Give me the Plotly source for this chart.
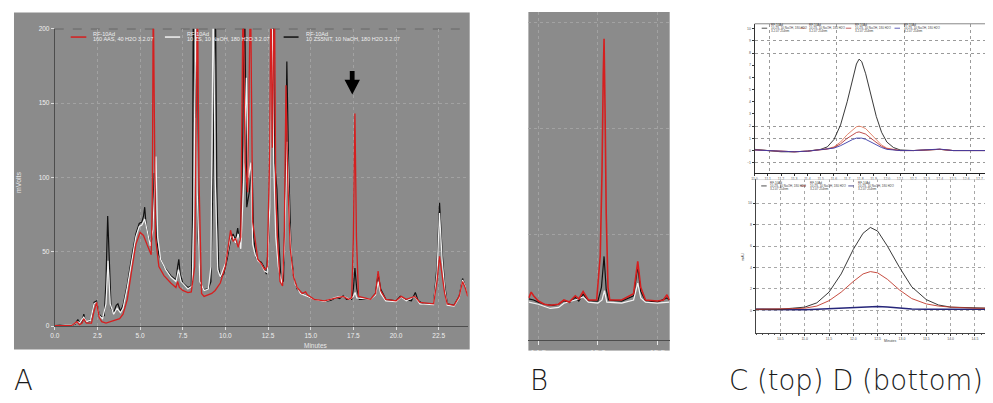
import plotly.graph_objects as go

W, H = 993, 403
OFF = 8  # page body margin offset compensation
def fx(x): return (x - OFF) / W
def fy(y): return 1 - (y - OFF) / H

# ---------------- Panel A data (minutes, mVolts) ----------------
a_ticks = [0.0, 2.5, 5.0, 7.5, 10.0, 12.5, 15.0, 17.5, 20.0, 22.5]
a_ticktext = ["0.0", "2.5", "5.0", "7.5", "10.0", "12.5", "15.0", "17.5", "20.0", "22.5"]
a_yticks = [0, 50, 100, 150, 200]

black_t = [0.0, 0.3, 0.6, 1.0, 1.2, 1.35, 1.45, 1.6, 1.7, 1.8, 2.0, 2.15, 2.3, 2.45, 2.6, 2.75, 2.9, 3.0, 3.1, 3.2,
           3.3, 3.45, 3.6, 3.7, 3.85, 4.0, 4.25, 4.5, 4.75, 4.95, 5.1, 5.2, 5.27, 5.35, 5.5, 5.65, 5.75, 5.83, 5.95,
           6.1, 6.4, 6.8, 7.1, 7.2, 7.27, 7.35, 7.5, 7.8, 8.0, 8.07, 8.12, 8.2, 8.3, 8.4, 8.55, 8.75, 9.0, 9.15, 9.3,
           9.41, 9.5, 9.6, 9.7, 9.9, 10.1, 10.3, 10.45, 10.6, 10.72, 10.85, 10.98, 11.12, 11.25, 11.4, 11.56, 11.65,
           11.8, 11.95, 12.1, 12.25, 12.4, 12.55, 12.7, 12.79, 12.88, 13.02, 13.12, 13.25, 13.4, 13.5, 13.6, 13.7,
           13.85, 14.0, 14.2, 14.5, 14.8, 15.2, 15.8, 16.2, 16.5, 16.7, 16.9, 17.1, 17.4, 17.5, 17.59, 17.7, 17.85,
           18.5, 18.8, 18.95, 19.1, 19.4, 20.0, 20.25, 20.5, 20.9, 21.13, 21.3, 21.6, 22.2, 22.4, 22.55, 22.7, 22.85,
           23.0, 23.4, 23.7, 23.9, 24.05, 24.2]
black_v = [0.5, 0.8, 0.3, 0.5, 1.5, 4.5, 2.5, 3.0, 8.0, 3.0, 3.0, 5.0, 16.0, 17.0, 8.0, 6.0, 7.0, 30.0, 74.0, 40.0,
           12.0, 9.0, 14.0, 15.0, 10.0, 14.0, 28.0, 46.0, 62.0, 69.0, 70.0, 74.0, 80.0, 68.0, 60.0, 55.0, 70.0, 103.0, 60.0,
           48.0, 40.0, 34.0, 31.0, 40.0, 45.0, 35.0, 29.0, 26.0, 27.0, 70.0, 230.0, 140.0, 230.0, 60.0, 28.0, 24.5, 25.0, 30.0, 120.0,
           230.0, 90.0, 40.0, 33.0, 35.0, 45.0, 58.0, 62.0, 58.0, 66.0, 55.0, 100.0, 230.0, 80.0, 90.0, 110.0, 60.0,
           46.0, 44.0, 43.0, 40.0, 35.0, 60.0, 150.0, 230.0, 110.0, 92.0, 60.0, 32.0, 30.0, 80.0, 178.0, 110.0,
           50.0, 33.0, 25.0, 22.0, 20.0, 18.0, 16.5, 17.5, 19.5, 18.5, 20.5, 18.0, 18.0, 25.0, 39.0, 25.0, 18.0,
           18.0, 22.0, 35.0, 25.0, 18.0, 17.0, 20.0, 18.0, 17.0, 22.7, 17.0, 15.0, 15.0, 40.0, 83.0, 50.0, 28.0,
           15.0, 14.0, 20.0, 32.0, 27.0, 20.0]

white_t = [0.0, 0.6, 1.0, 1.35, 1.45, 1.7, 1.85, 2.1, 2.3, 2.45, 2.6, 2.8, 3.0, 3.12, 3.25, 3.45, 3.65, 3.85, 4.0,
           4.25, 4.5, 4.75, 4.95, 5.1, 5.27, 5.4, 5.6, 5.75, 5.93, 6.03, 6.2, 6.5, 6.8, 7.1, 7.25, 7.4, 7.8, 8.05,
           8.15, 8.26, 8.35, 8.5, 8.75, 9.0, 9.15, 9.29, 9.4, 9.55, 9.7, 10.0, 10.3, 10.45, 10.6, 10.75, 10.9, 11.05,
           11.23, 11.35, 11.5, 11.6, 11.75, 11.9, 12.1, 12.3, 12.45, 12.6, 12.73, 12.83, 12.95, 13.1, 13.3, 13.45,
           13.62, 13.75, 13.9, 14.1, 14.4, 14.8, 15.2, 15.8, 16.5, 16.9, 17.3, 17.5, 17.6, 17.7, 18.5, 18.8, 18.95,
           19.1, 19.4, 20.0, 20.3, 20.6, 21.1, 21.4, 22.2, 22.4, 22.55, 22.7, 22.85, 23.0, 23.4, 23.7, 23.9, 24.05, 24.2]
white_v = [0.5, 0.3, 0.5, 3.0, 2.0, 6.0, 3.0, 4.0, 15.0, 16.0, 7.0, 5.0, 15.0, 44.0, 15.0, 8.0, 12.0, 9.0, 12.0,
           26.0, 44.0, 60.0, 67.0, 68.0, 72.0, 64.0, 54.0, 65.0, 114.0, 60.0, 45.0, 38.0, 33.0, 30.0, 38.0, 30.0, 25.0, 27.0,
           80.0, 230.0, 90.0, 30.0, 24.0, 25.0, 40.0, 230.0, 100.0, 38.0, 33.0, 42.0, 60.0, 60.0, 56.0, 62.0, 52.0, 90.0,
           167.0, 100.0, 110.0, 55.0, 48.0, 44.0, 42.0, 37.0, 36.0, 80.0, 230.0, 110.0, 60.0, 40.0, 28.0, 50.0,
           124.0, 70.0, 40.0, 28.0, 22.0, 20.0, 18.0, 16.5, 19.5, 20.0, 18.0, 20.0, 22.7, 19.0, 18.0, 21.0, 30.0,
           22.0, 17.0, 16.5, 19.5, 17.0, 20.0, 15.0, 14.5, 35.0, 76.0, 45.0, 25.0, 14.0, 13.5, 19.0, 31.0, 27.0, 20.0]

red_t = [0.0, 0.6, 1.0, 1.3, 1.45, 1.6, 1.7, 1.85, 2.0, 2.15, 2.3, 2.45, 2.6, 2.75, 3.0, 3.3, 3.6, 3.8, 4.0, 4.25,
         4.5, 4.75, 5.0, 5.2, 5.4, 5.55, 5.65, 5.72, 5.77, 5.83, 5.9, 6.1, 6.4, 6.8, 7.1, 7.2, 7.3, 7.5, 7.8, 8.0,
         8.2, 8.3, 8.36, 8.45, 8.6, 8.75, 9.0, 9.2, 9.4, 9.7, 10.0, 10.2, 10.3, 10.45, 10.6, 10.75, 10.9, 11.04,
         11.15, 11.3, 11.47, 11.6, 11.75, 11.9, 12.1, 12.3, 12.45, 12.6, 12.67, 12.75, 12.87, 12.95, 13.05, 13.2,
         13.35, 13.45, 13.55, 13.65, 13.8, 14.0, 14.2, 14.5, 14.7, 14.8, 15.2, 15.8, 16.5, 16.9, 17.2, 17.4, 17.5,
         17.59, 17.68, 17.8, 18.5, 18.8, 18.95, 19.1, 19.4, 20.0, 20.3, 20.6, 21.1, 21.4, 22.2, 22.4, 22.55, 22.7,
         22.85, 23.0, 23.4, 23.7, 23.9, 24.05, 24.2]
red_v = [0.3, 0.2, 0.5, 3.0, 1.0, 2.0, 5.0, 2.0, 2.0, 2.0, 10.0, 16.0, 6.0, 3.0, 2.0, 3.0, 4.0, 5.0, 8.0, 18.0,
         37.0, 55.0, 63.0, 61.0, 55.0, 50.0, 48.0, 90.0, 230.0, 150.0, 60.0, 40.0, 34.0, 29.0, 26.0, 30.0, 26.0, 24.0, 22.5, 23.0,
         40.0, 150.0, 230.0, 100.0, 22.0, 20.0, 21.0, 22.0, 24.0, 29.0, 40.0, 58.0, 64.5, 57.0, 59.0, 53.0, 60.0, 230.0,
         110.0, 90.0, 230.0, 70.0, 57.0, 45.0, 42.0, 38.0, 40.0, 120.0, 230.0, 120.0, 230.0, 90.0, 60.0, 30.0,
         27.0, 60.0, 162.0, 100.0, 52.0, 33.0, 26.0, 22.0, 23.0, 21.0, 18.0, 17.0, 19.0, 20.0, 18.0, 19.0, 60.0,
         143.0, 60.0, 20.0, 18.0, 22.0, 37.0, 24.0, 18.0, 17.0, 20.0, 18.0, 20.0, 16.0, 15.0, 30.0, 47.0, 35.0,
         22.0, 15.0, 14.0, 20.0, 30.0, 26.0, 20.0]

# ---------------- Panel B data ----------------
b_ticks = [14.5, 15.0, 15.5]
b_ticktext = ["14.5", "15.0", "15.5"]
b_red_t = [14.42, 14.44, 14.46, 14.5, 14.55, 14.6, 14.67, 14.715, 14.76, 14.81, 14.84, 14.876, 14.92, 14.99, 15.02,
           15.035, 15.045, 15.052, 15.06, 15.07, 15.085, 15.1, 15.2, 15.3, 15.335, 15.36, 15.4, 15.5, 15.55, 15.58, 15.6]
b_red_v = [20.0, 22.7, 21.0, 18.5, 17.0, 16.5, 17.0, 19.0, 18.0, 21.0, 19.5, 23.0, 19.0, 19.0, 40.0,
           80.0, 125.0, 142.5, 110.0, 60.0, 25.0, 19.0, 19.0, 22.0, 37.3, 25.0, 19.0, 18.5, 19.0, 21.5, 19.0]
b_black_t = [14.42, 14.46, 14.5, 14.55, 14.62, 14.67, 14.715, 14.76, 14.81, 14.84, 14.876, 14.92, 15.0, 15.03, 15.052,
             15.07, 15.09, 15.2, 15.3, 15.335, 15.36, 15.4, 15.5, 15.58, 15.6]
b_black_v = [19.5, 19.0, 18.0, 17.0, 16.5, 17.0, 18.7, 17.8, 20.3, 18.5, 21.8, 18.7, 18.5, 25.0, 39.6,
             24.0, 19.0, 18.5, 21.0, 35.0, 23.0, 18.7, 18.0, 20.0, 19.0]
b_white_t = [14.42, 14.5, 14.6, 14.67, 14.715, 14.81, 14.876, 14.92, 15.0, 15.035, 15.055, 15.075, 15.2, 15.3, 15.335,
             15.36, 15.4, 15.5, 15.6]
b_white_v = [18.0, 17.0, 15.0, 15.5, 17.5, 19.0, 20.5, 18.0, 17.5, 19.0, 23.4, 18.0, 17.5, 19.0, 27.0,
             20.0, 18.0, 17.5, 18.0]

# ---------------- Panel C data ----------------
c_xticks = list(range(0, 18))
c_xticktext = ["11.%d" % i if i < 10 else "12.%d" % (i - 10) for i in range(18)]
c_yticks = list(range(-1, 11))
c_t = [0.0, 1.0, 2.0, 3.0, 4.0, 5.0, 5.5, 6.0, 6.5, 7.0, 7.4, 7.7, 7.9, 8.1, 8.4, 8.8, 9.2, 9.6, 10.0, 10.5, 11.0,
       12.0, 13.0, 14.0, 15.0, 16.0, 17.8]
c_black = [0.1, 0.0, -0.1, -0.1, -0.05, 0.1, 0.3, 0.9, 2.1, 4.0, 5.9, 7.1, 7.5, 7.3, 6.3, 4.5, 2.8, 1.5, 0.7, 0.25, 0.05,
           0.0, 0.05, 0.1, 0.0, 0.0, 0.0]
c_salmon = [0.05, 0.0, -0.1, -0.1, -0.05, 0.05, 0.15, 0.3, 0.7, 1.3, 1.7, 1.95, 2.0, 1.95, 1.8, 1.35, 0.85, 0.45, 0.2, 0.08, 0.0,
            0.0, 0.05, 0.1, 0.0, 0.0, 0.0]
c_red = [0.05, 0.0, -0.1, -0.1, -0.05, 0.05, 0.12, 0.25, 0.55, 1.0, 1.3, 1.48, 1.53, 1.48, 1.35, 1.0, 0.65, 0.35, 0.15, 0.05, 0.0,
         0.0, 0.05, 0.1, 0.0, 0.0, 0.0]
c_blue = [0.05, 0.0, -0.1, -0.1, -0.05, 0.05, 0.1, 0.2, 0.4, 0.7, 0.9, 1.02, 1.05, 1.02, 0.92, 0.7, 0.45, 0.25, 0.1, 0.03, 0.0,
          0.0, 0.05, 0.12, 0.0, 0.0, 0.0]

# ---------------- Panel D data ----------------
d_xticks = list(range(0, 9))
d_xticktext = ["10.5", "11.0", "11.5", "12.0", "12.5", "13.0", "13.5", "14.0", "14.5"]
d_yticks = list(range(0, 6))
d_yticktext = ["0", "2", "4", "6", "8", "10"]
d_t = [-1.0, 0.0, 0.5, 1.0, 1.5, 2.0, 2.5, 3.0, 3.4, 3.7, 4.0, 4.4, 4.9, 5.4, 6.0, 6.5, 7.0, 8.0, 8.62]
d_black = [0.05, 0.05, 0.1, 0.15, 0.35, 0.85, 1.7, 2.85, 3.6, 3.87, 3.7, 3.0, 2.0, 1.1, 0.5, 0.25, 0.15, 0.1, 0.1]
d_red = [0.05, 0.05, 0.08, 0.1, 0.2, 0.45, 0.85, 1.35, 1.7, 1.81, 1.75, 1.45, 0.95, 0.55, 0.3, 0.2, 0.15, 0.1, 0.1]
d_blue = [0.05, 0.03, 0.03, 0.03, 0.05, 0.07, 0.1, 0.12, 0.15, 0.17, 0.18, 0.16, 0.1, 0.06, 0.05, 0.05, 0.05, 0.05, 0.05]

RED = "#d61f1f"
WHITE = "#f2f2f2"
BLACK = "#111111"
GRAY = "#8b8b8b"

fig = go.Figure()
def add(x, y, color, width, xa, ya, name, dash=None):
    fig.add_trace(go.Scatter(x=x, y=y, mode="lines", name=name, showlegend=False,
                             line=dict(color=color, width=width, dash=dash),
                             xaxis=xa, yaxis=ya, hoverinfo="skip"))

add(black_t, black_v, BLACK, 1.2, "x", "y", "10 ZS5NIT")
add(white_t, white_v, WHITE, 1.2, "x", "y", "10 ZS")
add(red_t, red_v, RED, 1.3, "x", "y", "160 AAS")

add(b_black_t, b_black_v, BLACK, 1.2, "x2", "y2", "10 ZS5NIT")
add(b_white_t, b_white_v, WHITE, 1.2, "x2", "y2", "10 ZS")
add(b_red_t, b_red_v, RED, 1.6, "x2", "y2", "160 AAS")

add(c_t, c_black, "#222222", 0.9, "x3", "y3", "C1")
add(c_t, c_salmon, "#e07a5f", 0.9, "x3", "y3", "C2")
add(c_t, c_red, "#b83a3a", 0.9, "x3", "y3", "C3")
add(c_t, c_blue, "#3a3aa8", 0.9, "x3", "y3", "C4")

add(d_t, d_blue, "#26267a", 1.6, "x4", "y4", "D3")
add(d_t, d_black, "#222222", 0.9, "x4", "y4", "D1")
add(d_t, d_red, "#c0392b", 0.9, "x4", "y4", "D2")

tick_a = dict(size=6.5, color="#eeeeee", family="Liberation Sans")
tiny = dict(size=3.5, color="#555555", family="Liberation Sans")

layout = dict(
    width=W, height=H, margin=dict(l=0, r=0, t=0, b=0),
    paper_bgcolor="white", plot_bgcolor="rgba(0,0,0,0)", showlegend=False,
    xaxis=dict(domain=[fx(50), fx(465)], range=[0, 24.2], anchor="y", tickmode="array",
               tickvals=a_ticks, ticktext=a_ticktext, ticks="outside", ticklen=3, tickcolor="#dddddd",
               tickfont=tick_a, showline=True, linecolor="#4d4d4d", linewidth=1,
               showgrid=True, gridcolor="#a2a2a2", griddash="dot", gridwidth=1, zeroline=False),
    yaxis=dict(domain=[fy(327.7), fy(25)], range=[0, 200], anchor="x", tickmode="array",
               tickvals=a_yticks, ticks="outside", ticklen=3, tickcolor="#dddddd", tickfont=tick_a,
               showline=True, linecolor="#4d4d4d", linewidth=1,
               showgrid=True, gridcolor="#a2a2a2", griddash="dot", gridwidth=1, zeroline=False),
    xaxis2=dict(domain=[fx(526), fx(668)], range=[14.4165, 15.603], anchor="y2", tickmode="array",
                tickvals=b_ticks, ticktext=b_ticktext, ticks="outside", ticklen=4, tickcolor="#e5e5e5",
                tickfont=dict(size=8, color="#eeeeee", family="Liberation Sans"),
                showline=True, linecolor="#4d4d4d", linewidth=1,
                showgrid=True, gridcolor="#a2a2a2", griddash="dot", zeroline=False),
    yaxis2=dict(domain=[fy(342), fy(8.3)], range=[0, 155], anchor="x2", tickmode="array",
                tickvals=[50, 100, 150], showticklabels=False, ticks="",
                showgrid=True, gridcolor="#a2a2a2", griddash="dot", zeroline=False, showline=False),
    xaxis3=dict(domain=[fx(753.3), fx(990)], range=[0, 17.8], anchor="y3", tickmode="array",
                tickvals=c_xticks, ticktext=c_xticktext, ticks="outside", ticklen=2, tickcolor="#333",
                tickfont=tiny, showline=True, linecolor="#222222", linewidth=1, showgrid=False, zeroline=False,
                minor=dict(tickvals=[1.1, 6.2, 11.3, 16.3], showgrid=True, gridcolor="#9a9a9a",
                           griddash="dot", gridwidth=0.8, ticks="")),
    yaxis3=dict(domain=[fy(171.7), fy(20)], range=[-1.83, 10.4], anchor="x3", tickmode="array",
                tickvals=c_yticks, ticks="outside", ticklen=2, tickcolor="#333", tickfont=tiny,
                showline=True, linecolor="#333333", linewidth=0.8, showgrid=False, zeroline=False,
                minor=dict(tickvals=[-1, 1, 2, 8, 9], showgrid=True, gridcolor="#9a9a9a",
                           griddash="dot", gridwidth=0.8, ticks="")),
    xaxis4=dict(domain=[fx(754.3), fx(990)], range=[-1.02, 8.62], anchor="y4", tickmode="array",
                tickvals=d_xticks, ticktext=d_xticktext, ticks="outside", ticklen=2, tickcolor="#333",
                tickfont=tiny, showline=True, linecolor="#444444", linewidth=0.8,
                showgrid=True, gridcolor="#a8a8a8", griddash="dot", gridwidth=0.8, zeroline=False,
                minor=dict(dtick=0.25, ticks="outside", ticklen=1, tickcolor="#555")),
    yaxis4=dict(domain=[fy(334.3), fy(178)], range=[-1.04, 6.13], anchor="x4", tickmode="array",
                tickvals=d_yticks, ticktext=d_yticktext, ticks="outside", ticklen=2,
                tickcolor="#333", tickfont=tiny, showline=True, linecolor="#444444", linewidth=0.8,
                showgrid=True, gridcolor="#a8a8a8", griddash="dot", gridwidth=0.8, zeroline=False),
)

def P(x, y):
    return "%.5f %.5f" % (fx(x), fy(y))

shapes = [
    dict(type="rect", xref="paper", yref="paper", x0=fx(9), x1=fx(467), y0=fy(351.5), y1=fy(8.5),
         fillcolor=GRAY, line=dict(width=0), layer="below"),
    dict(type="rect", xref="paper", yref="paper", x0=fx(526), x1=fx(668), y0=fy(352.7), y1=fy(8),
         fillcolor=GRAY, line=dict(width=0), layer="below"),
    dict(type="rect", xref="paper", yref="paper", x0=fx(515), x1=fx(690), y0=fy(366), y1=fy(352.7),
         fillcolor="white", line=dict(width=0), layer="above"),
    dict(type="line", xref="x domain", yref="y", x0=0, x1=1, y0=200, y1=200,
         line=dict(color="#333333", width=1, dash="dash"), layer="below"),
    dict(type="path", xref="paper", yref="paper",
         path="M%s L%s L%s L%s L%s L%s L%s Z" % (P(346.5, 68), P(351.3, 68), P(351.3, 77), P(356.7, 77),
                                                 P(349, 92), P(341.2, 77), P(346.5, 77)),
         fillcolor="#000000", line=dict(width=0)),
    dict(type="line", xref="paper", yref="paper", x0=fx(753.3), x1=fx(990), y0=fy(20), y1=fy(20),
         line=dict(color="#888888", width=1)),
    dict(type="line", xref="paper", yref="paper", x0=fx(754.3), x1=fx(990), y0=fy(178.5), y1=fy(178.5),
         line=dict(color="#cccccc", width=0.6)),
]

annotations = []
def txt(x, y, s, size, color, xanchor="left", yanchor="middle", angle=0, family="Liberation Sans", weight=None):
    f = dict(size=size, color=color, family=family)
    if weight:
        f["weight"] = weight
    annotations.append(dict(x=fx(x), y=fy(y), xref="paper", yref="paper", text=s, showarrow=False,
                            xanchor=xanchor, yanchor=yanchor, textangle=angle, font=f))

leg_a = [(66, 81.7, 86, RED, "RF-10Ad", "160 AAS, 40 H2O 3.2.07"),
         (160.7, 176, 181, WHITE, "RF-10Ad", "10 ZS, 10 NaOH, 180 H2O 3.2.07"),
         (280, 295, 300, BLACK, "RF-10Ad", "10 ZS5NIT, 10 NaOH, 180 H2O 3.2.07")]
for x0, x1, xt, col, l1, l2 in leg_a:
    shapes.append(dict(type="line", xref="paper", yref="paper", x0=fx(x0), x1=fx(x1), y0=fy(33.5), y1=fy(33.5),
                       line=dict(color=col, width=1.5)))
    txt(xt, 30.3, l1, 5.5, "#f0f0f0")
    txt(xt, 35.8, l2, 5.5, "#f0f0f0")

txt(14, 181, "mVolts", 7, "#e8e8e8", xanchor="center", angle=-90)
txt(313, 347.5, "Minutes", 6.5, "#e8e8e8", xanchor="center")

leg_c = [(760.5, 766, 768, "#222222"), (799, 804.5, 806, "#e07a5f"),
         (845, 850.5, 852, "#b83a3a"), (894, 899.5, 901, "#3a3aa8")]
for x0, x1, xt, col in leg_c:
    shapes.append(dict(type="line", xref="paper", yref="paper", x0=fx(x0), x1=fx(x1), y0=fy(24.5), y1=fy(24.5),
                       line=dict(color=col, width=0.8)))
    txt(xt, 21.5, "RF-10Ad", 3, "#444444")
    txt(xt, 24.5, "10 ZS, 10 NaOH, 180 H2O", 3, "#444444")
    txt(xt, 27.3, "3.2.07 254nm", 3, "#444444")

leg_d = [(760, 765.5, 767, "#222222"), (799.5, 805, 807, "#c0392b"), (847.5, 853, 855, "#26267a")]
for x0, x1, xt, col in leg_d:
    shapes.append(dict(type="line", xref="paper", yref="paper", x0=fx(x0), x1=fx(x1), y0=fy(185), y1=fy(185),
                       line=dict(color=col, width=0.8)))
    txt(xt, 182, "RF-10Ad", 3, "#444444")
    txt(xt, 185, "10 ZS, 10 NaOH, 180 H2O", 3, "#444444")
    txt(xt, 188, "3.2.07 254nm", 3, "#444444")

txt(742, 256.7, "mAU", 3.5, "#444444", xanchor="center", angle=-90)
txt(890, 342.5, "Minutes", 3.5, "#444444", xanchor="center")

# Panel labels
LBL = 27.5
txt(7, 382, "A", LBL, "#1a1a1a", family="DejaVu Sans", weight=300)
txt(526, 382, "B", LBL, "#1a1a1a", family="DejaVu Sans", weight=300)
txt(726, 382, "C (top) D (bottom)", LBL, "#1a1a1a", family="DejaVu Sans", weight=300)

layout["shapes"] = shapes
layout["annotations"] = annotations
fig.update_layout(**layout)
fig.write_html("out.html")
